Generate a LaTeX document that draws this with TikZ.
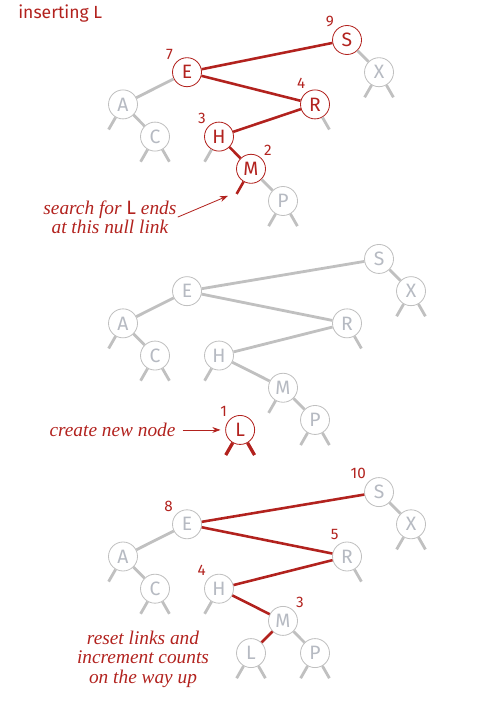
\documentclass[tikz,border=0pt]{standalone}
\usepackage{fontspec}
\setsansfont{Fira Sans}
\newfontfamily\notefont{Liberation Serif}
\usetikzlibrary{positioning,arrows.meta}
\definecolor{bookred}{RGB}{178,34,30}
\definecolor{linkgray}{RGB}{192,192,192}
\definecolor{keygray}{RGB}{182,186,194}
\tikzset{%
key/.style={draw=linkgray,fill=white,circle,minimum size=0.87cm,inner sep=0pt,line width=0.7pt,
  font=\sffamily\fontsize{16.5}{16.5}\selectfont,text=keygray},
redkey/.style={key,draw=bookred,text=bookred},
link/.style={draw=linkgray,line width=2.4pt},
redlink/.style={draw=bookred,line width=2.2pt},
count/.style={font=\sffamily\fontsize{13}{13}\selectfont,text=bookred,inner sep=1pt},
every label/.style={label distance=1.5pt},
note/.style={font=\notefont\itshape\fontsize{16.5}{16.5}\selectfont,text=bookred,align=center,inner sep=1pt},
pointer/.style={draw=bookred,line width=0.7pt,-{Stealth[length=7pt,width=5pt]}}
}
\newcommand{\keyL}{{\sffamily\upshape L}}

\begin{document}
\begin{tikzpicture}[x=0.96cm,y=-0.966cm]
  \useasboundingbox (-3.844,-1.242) rectangle (11.469,20.590);

  \node[anchor=base west,font=\sffamily\fontsize{15}{15}\selectfont,text=bookred,inner sep=0pt]
    (title) at (-3.28,-0.68) {inserting L};

  % search path down to the null link
  \node[key] (aA) at (0,2) {A};
  \node[key] (aC) at (1,3) {C};
  \node[redkey,label={[count]140:7}] (aE) at (2,1) {E};
  \node[redkey,label={[count]135:3}] (aH) at (3,3) {H};
  \node[redkey,label={[count]45:2}] (aM) at (4,4) {M};
  \node[key] (aP) at (5,5) {P};
  \node[redkey,label={[count]120:4}] (aR) at (6,2) {R};
  \node[redkey,label={[count]135:9}] (aS) at (7,0) {S};
  \node[key] (aX) at (8,1) {X};

  \foreach \u/\v in {E/A,A/C,S/X,M/P}
    \draw[link] (a\u) -- (a\v);
  \foreach \u/\v in {S/E,E/R,R/H,H/M}
    \draw[redlink] (a\u) -- (a\v);
  \foreach \n/\d in {A/-1,C/-1,C/1,H/-1,P/-1,P/1,R/1,X/-1,X/1} {
    \path (a\n) ++(\d*0.45,0.78) coordinate (a\n\d);
    \draw[link] (a\n) -- (a\n\d);
  }
  \path (aM) ++(-0.45,0.78) coordinate (aMnull);
  \draw[redlink] (aM) -- (aMnull);

  \node[note] (search) at (-0.41,5.50) {search for \keyL{} ends\\at this null link};
  \coordinate (aim) at (3.28,4.84);
  \draw[pointer] (search.east) -- (aim);

  % new node
  \begin{scope}[shift={(0,6.8)}]
    \node[key] (bA) at (0,2) {A};
    \node[key] (bC) at (1,3) {C};
    \node[key] (bE) at (2,1) {E};
    \node[key] (bH) at (3,3) {H};
    \node[key] (bM) at (5,4) {M};
    \node[key] (bP) at (6,5) {P};
    \node[key] (bR) at (7,2) {R};
    \node[key] (bS) at (8,0) {S};
    \node[key] (bX) at (9,1) {X};
    \node[redkey,label={[count]135:1}] (bL) at (3.66,5.31) {L};

    \foreach \u/\v in {S/E,E/A,A/C,E/R,R/H,H/M,M/P,S/X}
      \draw[link] (b\u) -- (b\v);
    \foreach \n/\d in {A/-1,C/-1,C/1,H/-1,M/-1,P/-1,P/1,R/1,X/-1,X/1} {
      \path (b\n) ++(\d*0.45,0.78) coordinate (b\n\d);
      \draw[link] (b\n) -- (b\n\d);
    }
    \foreach \d in {-1,1} {
      \path (bL) ++(\d*0.45,0.78) coordinate (bL\d);
      \draw[redlink,line width=2.8pt] (bL) -- (bL\d);
    }

    \node[note,left=1.45cm of bL] (create) {create new node};
    \draw[pointer,shorten <=5pt,shorten >=4pt] (create.east) -- (bL.west);
  \end{scope}

  % back up the path
  \begin{scope}[shift={(0,14.04)}]
    \node[key] (cA) at (0,2) {A};
    \node[key] (cC) at (1,3) {C};
    \node[key,label={[count]140:8}] (cE) at (2,1) {E};
    \node[key,label={[count]135:4}] (cH) at (3,3) {H};
    \node[key] (cL) at (4,5) {L};
    \node[key,label={[count]45:3}] (cM) at (5,4) {M};
    \node[key] (cP) at (6,5) {P};
    \node[key,label={[count]115:5}] (cR) at (7,2) {R};
    \node[key,label={[count]135:10}] (cS) at (8,0) {S};
    \node[key] (cX) at (9,1) {X};

    \foreach \u/\v in {E/A,A/C,S/X,M/P}
      \draw[link] (c\u) -- (c\v);
    \foreach \u/\v in {S/E,E/R,R/H,H/M,M/L}
      \draw[redlink] (c\u) -- (c\v);
    \foreach \n/\d in {A/-1,C/-1,C/1,H/-1,L/-1,L/1,P/-1,P/1,R/1,X/-1,X/1} {
      \path (c\n) ++(\d*0.45,0.78) coordinate (c\n\d);
      \draw[link] (c\n) -- (c\n\d);
    }

    \node[note] (reset) at (0.625,5.19) {reset links and\\increment counts\\on the way up};
  \end{scope}
\end{tikzpicture}
\end{document}
